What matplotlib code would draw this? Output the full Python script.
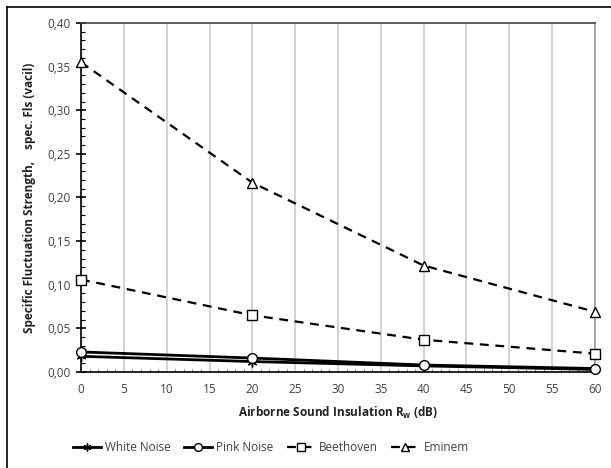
import matplotlib
matplotlib.use("Agg")
import matplotlib.pyplot as plt
from matplotlib.ticker import MultipleLocator, FuncFormatter
from matplotlib.lines import Line2D

# Airborne sound insulation (dB) and specific fluctuation strength (vacil)
insulation = [0, 20, 40, 60]
white_noise = [0.018, 0.012, 0.007, 0.003]
pink_noise = [0.023, 0.016, 0.008, 0.004]
beethoven = [0.106, 0.065, 0.037, 0.021]
eminem = [0.355, 0.217, 0.122, 0.069]

series_names = ["White Noise", "Pink Noise", "Beethoven", "Eminem"]

plt.rcParams["font.family"] = ["Open Sans", "DejaVu Sans"]

fig = plt.figure(figsize=(6.11, 4.68), dpi=100)
ax = fig.add_axes([0.1326, 0.2051, 0.8412, 0.7458])

# outer frame (left and top edges)
fig.add_artist(Line2D([0.0115, 0.0115], [0, 0.985], transform=fig.transFigure,
                      color="black", lw=1.2))
fig.add_artist(Line2D([0.0115, 1.0], [0.985, 0.985], transform=fig.transFigure,
                      color="black", lw=1.2))

common = dict(color="black", ms=7, mew=1.0, clip_on=False)
ax.plot(insulation, white_noise, lw=2.0, marker=(6, 2, 0),
        label=series_names[0], zorder=4, **common)
ax.plot(insulation, pink_noise, lw=2.0, marker="o", mfc="white",
        label=series_names[1], zorder=4, **common)
ax.plot(insulation, beethoven, lw=1.6, ls=(0, (4, 3)), marker="s", mfc="white",
        label=series_names[2], zorder=3, **common)
ax.plot(insulation, eminem, lw=1.6, ls=(0, (4, 3)), marker="^", mfc="white",
        label=series_names[3], zorder=3, **common)

ax.set_xlim(0, 60)
ax.set_ylim(0, 0.40)
ax.xaxis.set_major_locator(MultipleLocator(5))
ax.xaxis.set_minor_locator(MultipleLocator(1))
ax.yaxis.set_major_locator(MultipleLocator(0.05))
ax.yaxis.set_minor_locator(MultipleLocator(0.01))
ax.yaxis.set_major_formatter(FuncFormatter(lambda v, p: f"{v:.2f}".replace(".", ",")))

ax.grid(axis="x", which="major", color="#d4d4d4", lw=1.5)
ax.set_axisbelow(True)

ax.tick_params(axis="y", which="major", direction="inout", length=7, width=1.2,
               colors="black", labelcolor="#404040", labelsize=8.5, pad=4)
ax.tick_params(axis="y", which="minor", direction="in", length=3, width=0.8,
               colors="black")
ax.tick_params(axis="x", which="major", direction="out", length=0,
               labelcolor="#404040", labelsize=8.5, pad=8)
ax.tick_params(axis="x", which="minor", direction="in", length=2.5, width=0.6,
               colors="#666666")

for side in ("left", "bottom"):
    ax.spines[side].set_color("black")
    ax.spines[side].set_linewidth(1.2)
ax.spines["top"].set_color("#444444")
ax.spines["top"].set_linewidth(1.2)
ax.spines["right"].set_color("#999999")
ax.spines["right"].set_linewidth(1.2)

ax.set_xlabel("Airborne Sound Insulation R$_\\mathregular{w}$ (dB)", fontsize=8.5,
              fontweight="bold", color="#222222", labelpad=6)
ax.set_ylabel("Specific Fluctuation Strength,    spec. Fls (vacil)", fontsize=8.5,
              fontweight="bold", color="#222222", labelpad=8)

leg = fig.legend(loc="center", bbox_to_anchor=(0.443, 0.043), ncol=4, frameon=False,
                 fontsize=8.5, handlelength=2.4, columnspacing=1.1, handletextpad=0.35,
                 markerscale=0.8)
for t in leg.get_texts():
    t.set_color("#404040")

fig.savefig("out.png", dpi=100)
